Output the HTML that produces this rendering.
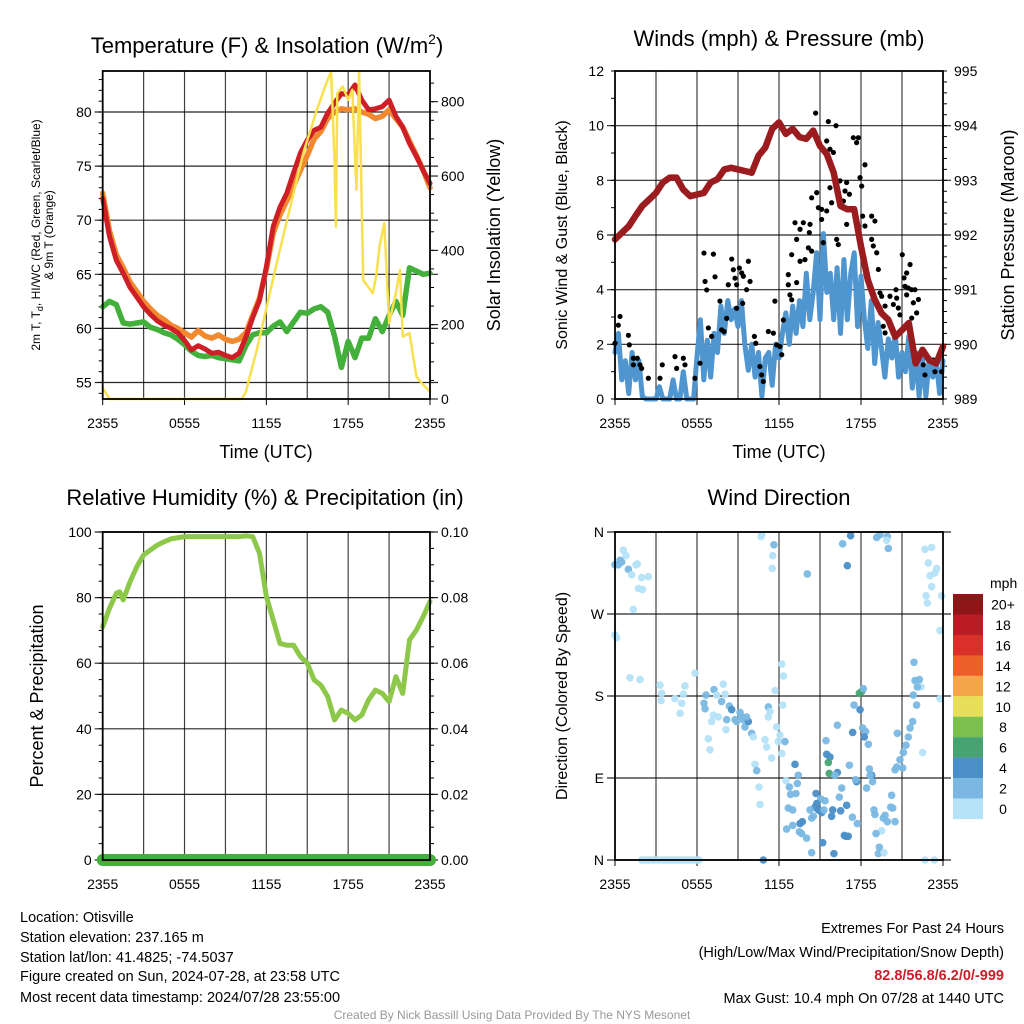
<!DOCTYPE html>
<html><head><meta charset="utf-8"><style>
body{margin:0;background:#fff;}
svg{display:block;font-family:"Liberation Sans",sans-serif;}
</style></head><body>
<svg id="c" width="1024" height="1024" viewBox="0 0 1024 1024">
<text x="267" y="53" font-size="22" text-anchor="middle">Temperature (F) &amp; Insolation (W/m<tspan dy="-9" font-size="14">2</tspan><tspan dy="9">)</tspan></text>
<text x="779" y="46" font-size="22" text-anchor="middle">Winds (mph) &amp; Pressure (mb)</text>
<text x="265" y="505" font-size="22" text-anchor="middle">Relative Humidity (%) &amp; Precipitation (in)</text>
<text x="779" y="505" font-size="22" text-anchor="middle">Wind Direction</text>
<text x="266" y="458" font-size="18" text-anchor="middle">Time (UTC)</text>
<text x="779" y="458" font-size="18" text-anchor="middle">Time (UTC)</text>
<g transform="translate(40,235) rotate(-90)"><text x="0" y="0" font-size="12" text-anchor="middle">2m T, T<tspan font-size="9" dy="3">d</tspan><tspan dy="-3">, HI/WC (Red, Green, Scarlet/Blue)</tspan></text><text x="0" y="13" font-size="12" text-anchor="middle">&amp; 9m T (Orange)</text></g>
<text transform="translate(500,235) rotate(-90)" font-size="18" text-anchor="middle">Solar Insolation (Yellow)</text>
<text transform="translate(567,235) rotate(-90)" font-size="16" text-anchor="middle">Sonic Wind &amp; Gust (Blue, Black)</text>
<text transform="translate(1014,235) rotate(-90)" font-size="18" text-anchor="middle">Station Pressure (Maroon)</text>
<text transform="translate(43,696) rotate(-90)" font-size="18" text-anchor="middle">Percent &amp; Precipitation</text>
<text transform="translate(567,696) rotate(-90)" font-size="16" text-anchor="middle">Direction (Colored By Speed)</text>
<g font-size="14.5">
<text x="20" y="922">Location: Otisville</text>
<text x="20" y="942">Station elevation: 237.165 m</text>
<text x="20" y="962">Station lat/lon: 41.4825; -74.5037</text>
<text x="20" y="981">Figure created on Sun, 2024-07-28, at 23:58 UTC</text>
<text x="20" y="1002">Most recent data timestamp: 2024/07/28 23:55:00</text>
</g>
<g font-size="14.5" text-anchor="end">
<text x="1004" y="933">Extremes For Past 24 Hours</text>
<text x="1004" y="957">(High/Low/Max Wind/Precipitation/Snow Depth)</text>
<text x="1004" y="980" fill="#c8202a" font-weight="bold">82.8/56.8/6.2/0/-999</text>
<text x="1004" y="1003">Max Gust: 10.4 mph On 07/28 at 1440 UTC</text>
</g>
<text x="512" y="1019" font-size="12" fill="#999" text-anchor="middle">Created By Nick Bassill Using Data Provided By The NYS Mesonet</text>
</svg>
<script>
// ---- data ----
const hours = [0,0.5,1,1.5,2,2.5,3,3.5,4,4.5,5,5.5,6,6.5,7,7.5,8,8.5,9,9.5,10,10.5,11,11.5,12,12.5,13,13.5,14,14.5,15,15.5,16,16.5,17,17.5,18,18.5,19,19.5,20,20.5,21,21.5,22,22.5,23,23.5,24];
const tempT = [72,68.5,66.3,65.1,63.8,62.9,62.0,61.3,60.7,60.3,60.0,59.6,58.9,58.0,58.4,58.1,57.7,57.8,57.5,57.3,57.7,59.2,61.0,62.6,65.7,69.4,71.2,72.5,74.4,76.2,77.4,78.3,78.6,79.9,80.8,81.7,81.6,82.5,81.1,80.2,80.3,80.5,81.1,79.6,78.6,77.1,75.9,74.6,73.4];
const temp9m = [72.5,69.0,66.8,65.6,64.3,63.4,62.5,61.8,61.2,60.8,60.3,60.0,59.6,59.2,59.8,59.3,59.1,59.4,59.0,58.8,59.0,59.6,61.2,62.8,65.5,68.8,70.5,71.8,73.2,74.6,76.0,77.5,78.2,79.4,80.0,80.3,80.2,80.3,80.0,79.8,79.4,79.6,80.2,79.4,78.6,77.3,76.0,74.6,73.0];
const dewT = [62.0,62.5,62.2,60.5,60.4,60.5,60.6,60.1,59.9,59.6,59.4,59.0,58.5,57.9,57.5,57.4,57.5,57.3,57.2,57.1,57.0,58.4,59.4,59.6,59.6,60.2,60.6,59.7,60.6,61.5,61.4,61.8,62.0,61.5,59.3,56.4,58.8,57.3,59.1,59.1,60.9,59.7,61.2,62.5,61.2,65.6,65.3,65.0,65.1];
const solarHours = [0,0.5,1,10.2,10.5,11.3,12.7,13.7,14.7,15.7,16.4,16.75,17.0,17.1,17.2,17.6,18.0,18.3,18.6,18.8,19.1,19.8,20.05,20.3,20.65,21.0,21.5,21.8,22.0,22.5,23.0,23.5,24];
const solarW = [30,0,0,0,20,132,356,509,661,778,850,881,643,464,823,841,805,832,563,881,320,285,329,410,473,204,285,347,168,177,60,38,20];
const windHours = [0,0.25,0.5,0.75,1,1.25,1.5,1.75,2,2.25,2.5,2.75,3,3.25,3.5,3.75,4,4.25,4.5,4.75,5,5.25,5.5,5.75,6,6.25,6.5,6.75,7,7.25,7.5,7.75,8,8.25,8.5,8.75,9,9.25,9.5,9.75,10,10.25,10.5,10.75,11,11.25,11.5,11.75,12,12.25,12.5,12.75,13,13.25,13.5,13.75,14,14.25,14.5,14.75,15,15.25,15.5,15.75,16,16.25,16.5,16.75,17,17.25,17.5,17.75,18,18.25,18.5,18.75,19,19.25,19.5,19.75,20,20.25,20.5,20.75,21,21.25,21.5,21.75,22,22.25,22.5,22.75,23,23.25,23.5,23.75,24];
const windSpeed = [1.7,2.4,0.7,1.4,0.2,1.7,0.7,1.4,0.1,0,0,0,0,0.45,0,0,0,0.7,0,0,1.0,0,0,0,1.55,2.9,0.7,2.15,0.8,2.4,1.7,3.4,2.4,3.6,2.9,3.3,2.65,3.6,2.0,1.05,2.0,0.8,1.7,0.1,1.5,1.7,0.5,2.0,1.5,2.4,3.15,2.0,3.4,2.4,3.6,2.65,4.6,2.9,3.9,5.35,2.9,6.05,3.9,4.6,2.9,4.8,2.4,5.1,2.9,4.6,5.35,2.65,4.5,2.9,1.85,3.6,1.3,2.8,1.85,0.8,2.2,1.5,2.4,0.8,1.7,1.0,2.3,0.4,1.7,0.1,1.5,0.1,1.5,0.8,1.4,0.2,1.4];
const pressHours = [0,0.5,1,1.5,2,2.5,3,3.5,4,4.5,5,5.5,6,6.5,7,7.5,8,8.5,9,9.5,10,10.5,11,11.5,12,12.5,13,13.5,14,14.5,15,15.5,16,16.5,17,17.5,18,18.5,19,19.5,20,20.5,21,21.5,22,22.5,23,23.5,24];
const pressure = [991.92,992.04,992.16,992.35,992.53,992.65,992.77,992.96,993.05,993.05,992.83,992.71,992.74,992.77,992.96,993.02,993.2,993.23,993.2,993.17,993.14,993.45,993.6,993.94,994.06,993.85,993.94,993.79,993.76,993.91,993.63,993.48,993.14,992.53,992.47,992.47,991.79,991.18,990.82,990.57,990.45,990.14,990.26,990.39,989.65,989.9,989.71,989.65,989.96];
const gustHours = [0,0.37,0.24,0.98,1.05,1.34,1.63,1.34,1.83,1.95,2.44,3.29,3.46,4.39,4.51,5.0,5.12,5.85,6.22,6.51,6.59,6.71,7.2,7.32,6.83,7.07,7.68,7.8,7.98,8.29,8.54,8.66,8.78,8.9,9.1,9.27,9.39,9.63,9.76,9.88,8.9,9.34,8.17,10.2,10.3,10.6,10.73,10.85,11.22,11.59,11.7,11.83,12.07,12.32,12.2,12.68,12.68,12.8,12.93,12.93,13.29,13.17,13.29,13.54,13.78,13.54,13.9,14.22,14.27,14.15,14.39,14.39,14.76,14.88,15.12,15.12,15.24,15.49,14.68,15.61,16.17,15.49,15.0,15.73,15.98,15.73,16.46,16.95,16.83,17.15,16.71,15.85,16.22,16.34,16.95,17.44,17.8,17.68,17.93,18.05,18.29,18.12,18.29,18.78,19.02,18.78,18.9,19.15,19.27,19.39,19.51,19.76,19.63,19.76,20.12,20.37,20.56,20.61,20.73,20.85,21.02,21.15,21.22,21.34,21.59,21.34,21.46,21.7,21.95,22.2,22.07,21.83,21.71,22.56,22.68,23.29,23.41,23.9];
const gustSpeed = [2.04,3.02,2.7,2.33,1.98,1.49,1.49,1.25,1.25,1.12,0.76,0.76,1.25,1.55,1.12,1.49,1.25,0.76,1.31,5.34,4.3,3.99,5.3,4.47,2.6,2.29,3.58,2.53,2.47,4.18,5.12,4.73,4.42,4.18,4.79,4.61,4.49,4.0,5.04,4.3,3.32,3.5,2.95,2.29,2.04,1.19,0.88,0.64,2.47,2.41,3.58,1.98,1.92,2.89,1.62,4.55,4.18,3.81,3.63,5.28,4.26,6.45,5.84,6.21,6.45,5.04,5.1,6.09,6.39,5.53,5.41,7.36,7.55,7.0,6.94,6.57,5.72,6.88,10.46,10.15,10.0,9.44,9.24,9.14,9.02,7.73,7.98,7.92,7.61,7.49,7.24,7.18,5.84,5.65,6.39,9.56,9.56,9.38,8.1,7.79,8.57,6.69,6.33,6.69,6.51,5.84,5.6,5.35,4.74,3.88,3.76,3.4,2.66,2.42,3.76,3.46,4.0,3.69,3.33,3.08,5.28,4.43,4.12,4.61,4.92,3.81,4.06,4.0,4.0,3.64,3.15,3.52,2.96,1.25,0.88,1.43,1.0,1.0];
const rhHours = [0,0.5,1,1.25,1.5,2,2.5,3,3.5,4,4.5,5,6,7,8,9,10,10.5,11,11.5,12,12.5,13,13.5,14,14.5,15,15.5,16,16.5,17,17.5,18,18.5,19,19.5,20,20.5,21,21.5,22,22.5,23,23.5,24];
const rh = [71.1,76.7,81.3,81.8,79.3,84.8,89.4,93,94.5,96,97,97.9,98.6,98.6,98.6,98.6,98.6,98.8,98.6,93.5,80.3,73.2,66,65.5,65.5,62,60,54.9,53.3,49.8,42.7,45.7,44.7,42.7,44.2,48.8,51.8,50.8,48.3,55.9,50.8,67.1,70.1,74.2,78.8];
const precip = [0,0,0,0,0,0,0,0,0,0,0,0,0,0,0,0,0,0,0,0,0,0,0,0,0];
const dirHours = [0.37,0.24,0.49,0,0.61,0.8,0.98,1.22,1.54,1.63,1.95,2.44,1.71,2.02,1.34,0,0.12,1.1,1.83,3.29,3.41,3.37,4.39,4.76,4.88,5.12,5.0,5.85,6.66,6.51,6.59,7.24,7.44,7.2,7.07,7.56,7.93,8.05,7.8,8.17,8.12,8.37,8.54,8.78,8.9,9.15,9.27,9.39,9.51,9.76,9.63,10.0,10.12,6.83,6.95,10.98,11.1,11.46,10.24,10.37,10.54,10.61,11.22,11.34,11.22,11.83,12.07,11.95,12.2,12.44,12.2,12.32,11.71,12.27,10.73,10.68,11.63,11.54,11.51,14.07,16.66,17.24,17.0,19.15,19.39,19.93,19.88,20.0,22.68,23.17,22.93,23.54,23.41,23.05,23.17,22.76,22.85,23.9,23.78,23.78,21.88,21.95,22.27,22.39,22.12,21.83,22.07,21.78,21.59,21.46,21.29,21.1,22.51,20.85,20.61,20.49,21.05,20.66,17.88,18.05,18.17,17.49,17.93,16.27,17.39,18.12,18.34,18.24,18.54,15.44,15.49,15.73,15.61,15.68,16.27,16.1,17.15,17.68,17.61,18.61,18.78,18.85,18.41,18.66,20.24,20.17,20.32,18.95,19.02,19.76,19.63,19.93,20.49,19.51,19.1,19.34,19.27,19.68,13.17,13.41,13.34,12.51,12.76,12.85,13.24,12.68,13.0,12.56,13.0,13.54,13.71,13.49,13.66,14.02,14.39,14.71,15.05,15.37,14.76,14.63,14.88,15.12,15.29,14.27,14.51,14.39,15.93,15.85,16.51,16.95,16.59,16.41,17.37,17.73,16.78,17.07,16.9,15.2,16.02,10.85,22.68,23.37,1.95,2.1,2.25,2.4,2.55,2.7,2.85,3.0,3.15,3.3,3.5,3.65,3.8,3.95,4.1,4.25,4.4,4.55,4.7,4.9,5.05,5.2,5.35,5.55,5.7,5.85,6.0,6.15];
const dirDeg = [329,324,327,324,340,334,319,313,324,325,310,311,298,297,275,247,244,200,198,192,183,175,177,161,172,191,182,205,181,172,166,187,181,159,152,157,193,182,174,154,143,169,165,154,152,162,157,154,146,152,157,139,135,133,121,132,124,112,105,98,80,61,168,163,157,146,137,130,117,130,215,202,186,170,357,355,346,334,320,314,347,356,323,354,357,355,351,342,341,343,326,320,315,312,300,290,282,290,252,177,217,197,198,190,190,181,170,152,145,135,126,118,118,110,102,99,101,139,183,185,188,170,165,148,140,145,141,135,127,131,116,113,107,95,96,93,104,86,88,100,93,86,79,93,71,58,57,55,50,49,46,42,42,32,29,14,7,8,105,93,84,87,80,72,73,57,55,34,38,40,42,31,29,24,8,73,67,65,62,58,55,52,55,55,48,46,55,48,54,60,79,69,47,40,27,26,26,19,7,0,0,0,0,0,0,0,0,0,0,0,0,0,0,0,0,0,0,0,0,0,0,0,0,0,0,0,0,0,0,0];
const dirSpeed = [3,3,3,3,1,1,3,1,1,1,1,1,1,1,1,1,1,1,1,1,1,1,1,1,1,1,1,1,3,3,3,3,1,1,1,1,1,1,3,3,1,3,5,3,3,3,3,3,3,5,3,3,1,1,1,1,1,1,1,3,1,1,3,1,1,1,1,1,1,3,1,1,1,1,1,1,3,1,1,3,3,5,5,3,3,3,1,3,1,1,1,1,1,1,1,1,1,1,1,1,3,3,3,1,3,3,3,3,3,3,3,3,1,3,3,3,3,3,7,7,3,3,5,3,5,3,3,5,3,3,5,5,7,7,5,3,3,5,3,3,5,3,3,3,3,3,3,3,3,3,3,3,3,1,3,3,3,1,5,3,3,1,3,3,3,3,3,3,3,5,5,3,3,3,3,5,3,3,5,5,5,5,3,3,3,3,5,5,5,5,3,3,3,3,5,5,5,5,5,5,1,1,1,1,1,1,1,1,1,1,1,1,1,1,1,1,1,1,1,1,1,1,1,1,1,1,1,1,1,1,1];
const speedBins = ["20+","18","16","14","12","10","8","6","4","2","0"];
const binColors = ["#8e1518","#b91c24","#d9302a","#ee5f2a","#f6a54a","#e7df5a","#7cc04e","#47a472","#4a8fc7","#7ab8e3","#b5e2f7"];
const xTickLabels = ["2355","0555","1155","1755","2355"];
const tempTicks = [55,60,65,70,75,80];
const solarTicks = [0,200,400,600,800];
const windTicks = [0,2,4,6,8,10,12];
const pressTicks = [989,990,991,992,993,994,995];
const rhTicks = [0,20,40,60,80,100];
const precipTicks = ["0.00","0.02","0.04","0.06","0.08","0.10"];
const dirLabels = ["N","E","S","W","N"];

const NS="http://www.w3.org/2000/svg";
const svg=document.getElementById('c');
function mk(tag,attrs,parent){const e=document.createElementNS(NS,tag);for(const k in attrs)e.setAttribute(k,attrs[k]);(parent||svg).appendChild(e);return e;}
function scale(d0,d1,r0,r1){return v=>r0+(v-d0)*(r1-r0)/(d1-d0);}

function panel(name,x0,x1,y0,y1){
  const g=mk('g',{});
  
  
  const xs=scale(0,24,x0,x1);
  for(let h=3;h<24;h+=3){const l=mk('line',{x1:xs(h),x2:xs(h),y1:y0,y2:y1,stroke:'#000','stroke-width':1.2,'stroke-opacity':0.75},g);}
  xTickLabels.forEach((s,i)=>{const t=mk('text',{x:xs(i*6),y:y1+29,'font-size':14,'text-anchor':'middle'},g);t.textContent=s;
    mk('line',{x1:xs(i*6),x2:xs(i*6),y1:y1,y2:y1+6,stroke:'#000'},g);});
  return {g,xs};
}
function hgrid(g,ys,vals,x0,x1){vals.forEach(v=>{const l=mk('line',{x1:x0-8,x2:x1+8,y1:ys(v),y2:ys(v),stroke:'#000','stroke-width':1.2,'stroke-opacity':0.85},g);});}
function leftLabels(g,ys,vals,x0,labels,fs){vals.forEach((v,i)=>{const t=mk('text',{x:x0-11,y:ys(v)+5,'font-size':fs||14,'text-anchor':'end'},g);t.textContent=labels?labels[i]:v;});}
function rightLabels(g,ys,vals,x1,labels){vals.forEach((v,i)=>{const t=mk('text',{x:x1+11,y:ys(v)+5,'font-size':14},g);t.textContent=labels?labels[i]:v;});}
function minorTicks(g,ys,a,b,step,x,dir){for(let v=a;v<=b+1e-9;v+=step){mk('line',{x1:x,x2:x+dir*4,y1:ys(v),y2:ys(v),stroke:'#000','stroke-width':1},g);}}
function border(g,x0,x1,y0,y1){const r=mk('rect',{x:x0,y:y0,width:x1-x0,height:y1-y0,fill:'none',stroke:'#000','stroke-width':1.8},g);}
function path(g,xs,ys,xv,yv,color,w,name){let d='';xv.forEach((x,i)=>{d+=(i?'L':'M')+xs(x).toFixed(1)+','+ys(yv[i]).toFixed(1);});const p=mk('path',{d,fill:'none',stroke:color,'stroke-width':w,'stroke-linejoin':'round','stroke-linecap':'round'},g);return p;}

// Panel 1
{const x0=102.7,x1=430,y0=71,y1=399;const {g,xs}=panel('temperature-panel',x0,x1,y0,y1);
 const yt=scale(80,55,112,382.5), yr=scale(0,800,399,101.7);
 hgrid(g,yt,tempTicks,x0,x1);leftLabels(g,yt,tempTicks,x0);rightLabels(g,yr,solarTicks,x1);
 minorTicks(g,yt,54,83,1,x0,-1);minorTicks(g,yr,0,875,50,x1,1);
 solarTicks.forEach(v=>mk('line',{x1:x1,x2:x1+8,y1:yr(v),y2:yr(v),stroke:'#000'},g));
 path(g,xs,yt,hours,dewT,'#44b03c',5.5,'dewpoint-line');
 path(g,xs,yt,hours,temp9m,'#f2892e',5.5,'temp-9m-line');
 path(g,xs,yt,hours,tempT,'#cf1f26',5,'temp-2m-line');
 path(g,xs,yr,solarHours,solarW,'#f8e04e',2.5,'solar-line');
 border(g,x0,x1,y0,y1);}
// Panel 2
{const x0=615,x1=943,y0=71,y1=399;const {g,xs}=panel('winds-panel',x0,x1,y0,y1);
 const yw=scale(0,12,399,71), yp=scale(989,995,399,71);
 hgrid(g,yw,windTicks.slice(1,6),x0,x1);leftLabels(g,yw,windTicks,x0);rightLabels(g,yp,pressTicks,x1);
 minorTicks(g,yw,0,12,1,x0,-1);minorTicks(g,yp,989,995,0.2,x1,1);
 path(g,xs,yw,windHours,windSpeed,'#4f95d0',5,'wind-speed-line');
 gustHours.forEach((h,i)=>{const c=mk('circle',{cx:xs(h),cy:yw(gustSpeed[i]),r:2.6,fill:'#000'},g);});
 path(g,xs,yp,pressHours,pressure,'#9b1c1f',6.5,'pressure-line');
 border(g,x0,x1,y0,y1);}
// Panel 3
{const x0=102.7,x1=430,y0=532,y1=860;const {g,xs}=panel('humidity-panel',x0,x1,y0,y1);
 const yh=scale(0,100,860,532), yq=scale(0,0.1,860,532);
 hgrid(g,yh,rhTicks,x0,x1);leftLabels(g,yh,rhTicks,x0);rightLabels(g,yh,rhTicks,x1,precipTicks);
 minorTicks(g,yh,0,100,5,x0,-1);minorTicks(g,yh,0,100,5,x1,1);
 path(g,xs,yh,rhHours,rh,'#8dc84a',5,'humidity-line');
 path(g,xs,yq,precip.map((v,i)=>i),precip,'#44b03c',12,'precip-line');
 border(g,x0,x1,y0,y1);}
// Panel 4
{const x0=615,x1=943,y0=532,y1=860;const {g,xs}=panel('direction-panel',x0,x1,y0,y1);
 const yd=scale(0,360,860,532);
 const dv=[0,90,180,270,360];
 hgrid(g,yd,dv,x0,x1);leftLabels(g,yd,dv,x0,dirLabels);
 dirHours.forEach((h,i)=>{const s=dirSpeed[i];const bi=Math.max(0,Math.min(10,10-Math.floor(s/2)));
   const c=mk('circle',{cx:xs(h),cy:yd(dirDeg[i]),r:3.8,fill:binColors[bi],'fill-opacity':0.95},g);
   });
 border(g,x0,x1,y0,y1);
 const lg=mk('g',{});
 const t=mk('text',{x:990,y:588,'font-size':14},lg);t.textContent='mph';
 speedBins.forEach((s,i)=>{const r=mk('rect',{x:953,y:594+i*20.45,width:30,height:20.6,fill:binColors[i]},lg);
   const tx=mk('text',{x:1003,y:594+i*20.45+15.5,'font-size':14,'text-anchor':'middle'},lg);tx.textContent=s;});
}
</script>
</body></html>
